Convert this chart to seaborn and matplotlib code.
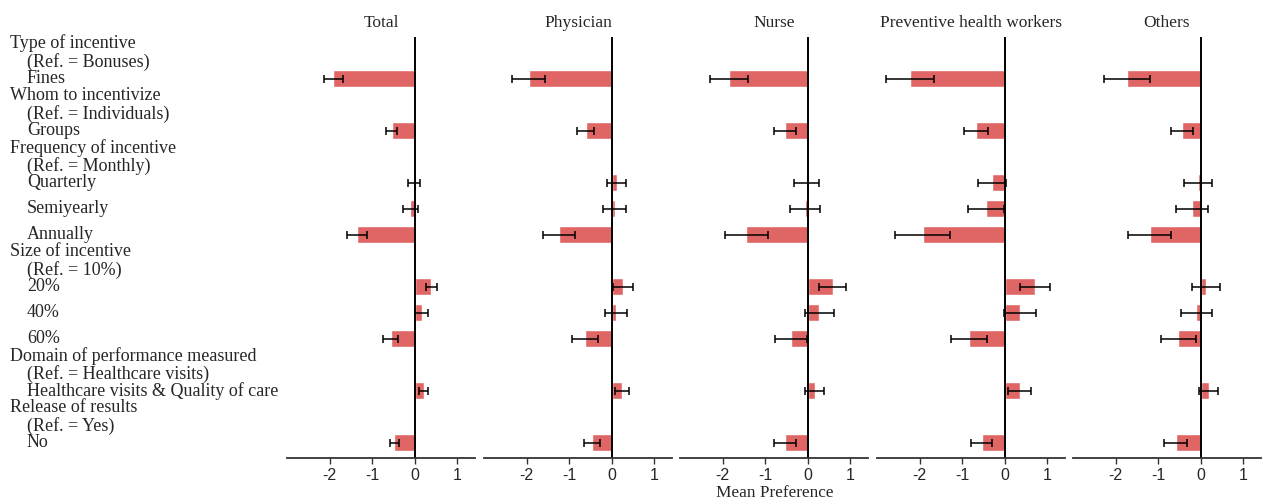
import matplotlib.pyplot as plt
import matplotlib.transforms as mtrans
import seaborn as sns
import pandas as pd
import numpy as np

groups = ["Total", "Physician", "Nurse", "Preventive health workers", "Others"]

attributes = ["Type of incentive", "Whom to incentivize", "Frequency of incentive",
              "Size of incentive", "Domain of performance measured", "Release of results"]
references = ["(Ref. = Bonuses)", "(Ref. = Individuals)", "(Ref. = Monthly)",
              "(Ref. = 10%)", "(Ref. = Healthcare visits)", "(Ref. = Yes)"]
attribute_levels = [["Fines"], ["Groups"], ["Quarterly", "Semiyearly", "Annually"],
                    ["20%", "40%", "60%"], ["Healthcare visits & Quality of care"], ["No"]]

levels = [lv for lvs in attribute_levels for lv in lvs]

# mean preference and half-width of the confidence interval, in levels order
total_mean = [-1.91, -0.54, -0.02, -0.10, -1.36, 0.39, 0.17, -0.56, 0.21, -0.48]
total_err = [0.23, 0.13, 0.14, 0.17, 0.24, 0.13, 0.15, 0.18, 0.10, 0.11]
physician_mean = [-1.95, -0.61, 0.12, 0.07, -1.24, 0.27, 0.11, -0.62, 0.25, -0.47]
physician_err = [0.39, 0.20, 0.23, 0.28, 0.37, 0.24, 0.26, 0.30, 0.17, 0.19]
nurse_mean = [-1.84, -0.54, -0.03, -0.06, -1.44, 0.59, 0.27, -0.39, 0.17, -0.53]
nurse_err = [0.45, 0.26, 0.30, 0.36, 0.50, 0.32, 0.34, 0.37, 0.22, 0.25]
preventive_mean = [-2.22, -0.67, -0.30, -0.44, -1.93, 0.72, 0.36, -0.84, 0.36, -0.54]
preventive_err = [0.57, 0.28, 0.33, 0.42, 0.64, 0.35, 0.37, 0.43, 0.27, 0.25]
others_mean = [-1.72, -0.44, -0.06, -0.21, -1.20, 0.12, -0.10, -0.52, 0.19, -0.58]
others_err = [0.54, 0.25, 0.33, 0.38, 0.50, 0.33, 0.36, 0.41, 0.23, 0.27]

means = [total_mean, physician_mean, nurse_mean, preventive_mean, others_mean]
errs = [total_err, physician_err, nurse_err, preventive_err, others_err]

order = []
for a, lvs in zip(attributes, attribute_levels):
    order.append(a)
    order.extend(lvs)

rows = []
for g, m, e in zip(groups, means, errs):
    for lv, mv, ev in zip(levels, m, e):
        rows.append({"group": g, "level": lv, "mean": mv, "err": ev})
df = pd.DataFrame(rows)

sns.set_theme(style="white")
serif = ["Liberation Serif", "DejaVu Serif"]
narrow = ["Liberation Sans Narrow", "Liberation Sans", "DejaVu Sans"]

W, H = 1263, 504
fig = plt.figure(figsize=(W / 100, H / 100), dpi=100)
bar_color = "#E06666"

lefts = [287, 484, 680, 877, 1073]
for i, g in enumerate(groups):
    ax = fig.add_axes([lefts[i] / W, (H - 458) / H, 188 / W, 421 / H])
    sub = df[df["group"] == g]
    sns.barplot(data=sub, x="mean", y="level", order=order, color=bar_color,
                saturation=1, errorbar=None, width=0.66, ax=ax)
    pos = [order.index(lv) for lv in sub["level"]]
    ax.errorbar(sub["mean"], pos, xerr=sub["err"], fmt="none", ecolor="black",
                elinewidth=1.1, capsize=3, capthick=1.1)
    ax.axvline(0, color="black", lw=1.4)
    ax.set_xlim(-3, 1.42)
    ax.set_ylim(15.58, -0.6)
    ax.set_yticks([])
    ax.set_ylabel("")
    ax.set_xlabel("")
    ax.set_xticks([-2, -1, 0, 1])
    ax.set_xticklabels(["-2", "-1", "0", "1"], family=narrow, fontsize=11.5)
    ax.tick_params(axis="x", bottom=True, length=4, width=1, color="#333333", pad=3)
    for s in ["left", "right", "top"]:
        ax.spines[s].set_visible(False)
    ax.spines["bottom"].set_color("#333333")
    ax.spines["bottom"].set_linewidth(1.3)
    ax.set_title(g, family=serif, fontsize=12.5, pad=7)

    if i == 0:
        tr = mtrans.blended_transform_factory(fig.transFigure, ax.transData)
        for a, ref, lvs in zip(attributes, references, attribute_levels):
            idx = order.index(a)
            ax.text(10 / W, idx - 0.35, a, transform=tr, family=serif, fontsize=13,
                    ha="left", va="center", clip_on=False)
            ax.text(27 / W, idx + 0.35, ref, transform=tr, family=serif, fontsize=13,
                    ha="left", va="center", clip_on=False)
            for lv in lvs:
                ax.text(27 / W, order.index(lv), lv, transform=tr, family=serif,
                        fontsize=13, ha="left", va="center", clip_on=False)

fig.text(775 / W, 1 - 493 / H, "Mean Preference", family=serif, fontsize=12.4,
         ha="center", va="center")

plt.savefig("out.png", dpi=100)
